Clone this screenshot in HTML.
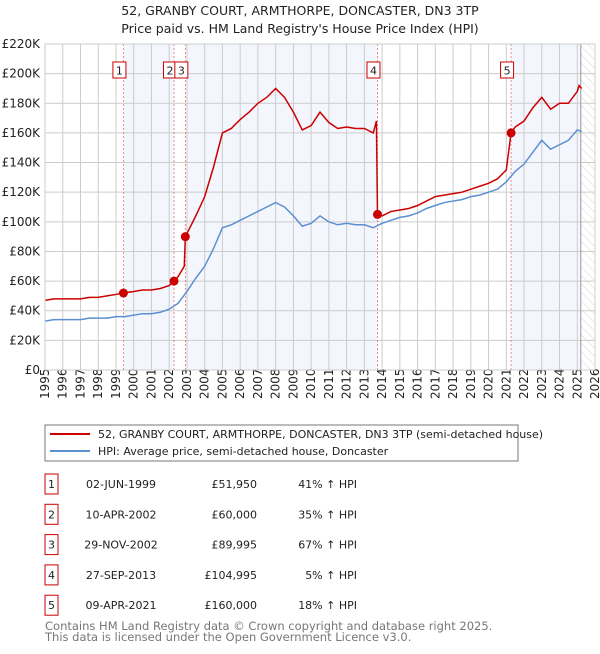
<!DOCTYPE html>
<html><head><meta charset="utf-8"><style>
body{margin:0;background:#fff;font-family:"DejaVu Sans","Liberation Sans",sans-serif;}
svg text{font-family:"DejaVu Sans","Liberation Sans",sans-serif;}
</style></head><body>
<svg id="c" width="600" height="650" viewBox="0 0 600 650">
<defs><pattern id="hatch" width="6" height="6" patternUnits="userSpaceOnUse" patternTransform="rotate(-45)"><line x1="0" y1="0" x2="0" y2="6" stroke="#ccc" stroke-width="0.8"/></pattern></defs>
<text x="300" y="15" text-anchor="middle" font-size="12.5" fill="#222">52, GRANBY COURT, ARMTHORPE, DONCASTER, DN3 3TP</text>
<text x="300" y="33" text-anchor="middle" font-size="12.5" fill="#222">Price paid vs. HM Land Registry's House Price Index (HPI)</text>
<g id="plot"></g>
<rect x="45" y="425" width="473" height="36" fill="#fff" stroke="#777"/>
<line x1="50" y1="434" x2="90" y2="434" stroke="#cc0000" stroke-width="2"/>
<text x="98" y="438" font-size="11" fill="#222">52, GRANBY COURT, ARMTHORPE, DONCASTER, DN3 3TP (semi-detached house)</text>
<line x1="50" y1="451" x2="90" y2="451" stroke="#5b8fd0" stroke-width="2"/>
<text x="98" y="455" font-size="11" fill="#222">HPI: Average price, semi-detached house, Doncaster</text>
<g id="table"></g>
<text x="45" y="630" font-size="11.5" fill="#777">Contains HM Land Registry data © Crown copyright and database right 2025.</text>
<text x="45" y="641" font-size="11.5" fill="#777">This data is licensed under the Open Government Licence v3.0.</text>
</svg>
<script>
const hpiYears=[1995,1995.5,1996,1996.5,1997,1997.5,1998,1998.5,1999,1999.5,2000,2000.5,2001,2001.5,2002,2002.5,2003,2003.5,2004,2004.5,2005,2005.5,2006,2006.5,2007,2007.5,2008,2008.5,2009,2009.5,2010,2010.5,2011,2011.5,2012,2012.5,2013,2013.5,2014,2014.5,2015,2015.5,2016,2016.5,2017,2017.5,2018,2018.5,2019,2019.5,2020,2020.5,2021,2021.5,2022,2022.5,2023,2023.5,2024,2024.5,2025,2025.25];
const hpiValues=[33,34,34,34,34,35,35,35,36,36,37,38,38,39,41,45,53,62,70,82,96,98,101,104,107,110,113,110,104,97,99,104,100,98,99,98,98,96,99,101,103,104,106,109,111,113,114,115,117,118,120,122,127,134,139,147,155,149,152,155,162,161];
const priceYears=[1995,1995.5,1996,1996.5,1997,1997.5,1998,1998.5,1999,1999.42,2000,2000.5,2001,2001.5,2002,2002.27,2002.5,2002.85,2002.91,2003.5,2004,2004.5,2005,2005.5,2006,2006.5,2007,2007.5,2008,2008.5,2009,2009.5,2010,2010.5,2011,2011.5,2012,2012.5,2013,2013.5,2013.68,2013.74,2014,2014.5,2015,2015.5,2016,2016.5,2017,2017.5,2018,2018.5,2019,2019.5,2020,2020.5,2021,2021.27,2021.5,2022,2022.5,2023,2023.5,2024,2024.5,2025,2025.1,2025.25];
const priceValues=[47,48,48,48,48,49,49,50,51,52,53,54,54,55,57,60,63,70,90,104,117,137,160,163,169,174,180,184,190,184,174,162,165,174,167,163,164,163,163,160,168,105,104,107,108,109,111,114,117,118,119,120,122,124,126,129,135,160,164,168,177,184,176,180,180,188,192,190];
const saleLabels=["1","2","3","4","5"];
const saleYears=[1999.42,2002.27,2002.91,2013.74,2021.27];
const salePrices=[51950,60000,89995,104995,160000];
const saleDates=["02-JUN-1999","10-APR-2002","29-NOV-2002","27-SEP-2013","09-APR-2021"];
const salePriceText=["£51,950","£60,000","£89,995","£104,995","£160,000"];
const saleHpiText=["41% ↑ HPI","35% ↑ HPI","67% ↑ HPI","5% ↑ HPI","18% ↑ HPI"];
const yTicks=[0,20,40,60,80,100,120,140,160,180,200,220];
const xTicks=[1995,1996,1997,1998,1999,2000,2001,2002,2003,2004,2005,2006,2007,2008,2009,2010,2011,2012,2013,2014,2015,2016,2017,2018,2019,2020,2021,2022,2023,2024,2025,2026];

const NS="http://www.w3.org/2000/svg";
const L=45,R=595,T=44,B=370,X0=1995,X1=2026,YMAX=220;
const xs=v=>L+(v-X0)/(X1-X0)*(R-L);
const ys=v=>B-v/YMAX*(B-T);
const plot=document.getElementById('plot');
function mk(tag,attrs,parent){const e=document.createElementNS(NS,tag);for(const k in attrs)e.setAttribute(k,attrs[k]);(parent||plot).appendChild(e);return e;}
const shadeStarts=[saleYears[0],saleYears[2],saleYears[4]];
const shadeEnds=[saleYears[1],saleYears[3],2025.2];
for(let i=0;i<shadeStarts.length;i++){
 const r=mk('rect',{x:xs(shadeStarts[i]),y:T,width:xs(shadeEnds[i])-xs(shadeStarts[i]),height:B-T,fill:'#f3f6fd'});
 
 
}
const h=mk('rect',{x:xs(2025.2),y:T,width:R-xs(2025.2),height:B-T,fill:'url(#hatch)'});


yTicks.forEach(t=>{
 const g=mk('line',{x1:L,x2:R,y1:ys(t),y2:ys(t),stroke:'#ccc','stroke-width':1});
 
 
 const tx=mk('text',{x:L-5,y:ys(t)+4,'text-anchor':'end','font-size':12,fill:'#222'});
 tx.textContent='£'+(t===0?'0':t+'K');
 
 
});
xTicks.forEach(t=>{
 const g=mk('line',{x1:xs(t),x2:xs(t),y1:T,y2:B,stroke:'#ccc','stroke-width':1});
 
 
 const tx=mk('text',{transform:`translate(${xs(t)+4},${B+29}) rotate(-90)`,'font-size':12,fill:'#222'});
 tx.textContent=t;
 
 
});
const vl=mk('line',{x1:xs(2025.2),x2:xs(2025.2),y1:T,y2:B,stroke:'#999','stroke-width':1});


saleYears.forEach((s,i)=>{
 const l=mk('line',{x1:xs(s),x2:xs(s),y1:T,y2:B,stroke:'#f07070','stroke-width':0.8,'stroke-dasharray':'2,2'});
 
 
});
const hp=mk('polyline',{points:hpiYears.map((y,i)=>xs(y)+','+ys(hpiValues[i])).join(' '),fill:'none',stroke:'#5b8fd0','stroke-width':1.5});


const pp=mk('polyline',{points:priceYears.map((y,i)=>xs(y)+','+ys(priceValues[i])).join(' '),fill:'none',stroke:'#cc0000','stroke-width':1.5});


saleYears.forEach((s,i)=>{
 const c=mk('circle',{cx:xs(s),cy:ys(salePrices[i]/1000),r:4.5,fill:'#cc0000'});
 
 
 const bx=xs(s)-4;
 const b=mk('rect',{x:bx-6.5,y:62,width:13,height:16,fill:'#fff',stroke:'#cc0000'});
 
 
 const t=mk('text',{x:bx,y:74.5,'text-anchor':'middle','font-size':11,fill:'#222'});
 t.textContent=saleLabels[i];
 
 
});
const fr=mk('rect',{x:L,y:T,width:R-L,height:B-T,fill:'none',stroke:'#ccc'});


const tb=document.getElementById('table');
saleLabels.forEach((lab,i)=>{
 const cy=483+i*30.3;
 const r=mk('rect',{x:45,y:cy-9,width:13,height:20,fill:'#fff',stroke:'#cc0000'},tb);
 
 
 const vals=[[51.5,lab,'middle'],[121,saleDates[i],'middle'],[257,salePriceText[i],'end'],[357,saleHpiText[i],'end']];
 vals.forEach(v=>{
  const t=mk('text',{x:v[0],y:cy+5,'text-anchor':v[2],'font-size':11,fill:'#222'},tb);
  t.textContent=v[1];
  
  
 });
});
</script>
</body></html>
